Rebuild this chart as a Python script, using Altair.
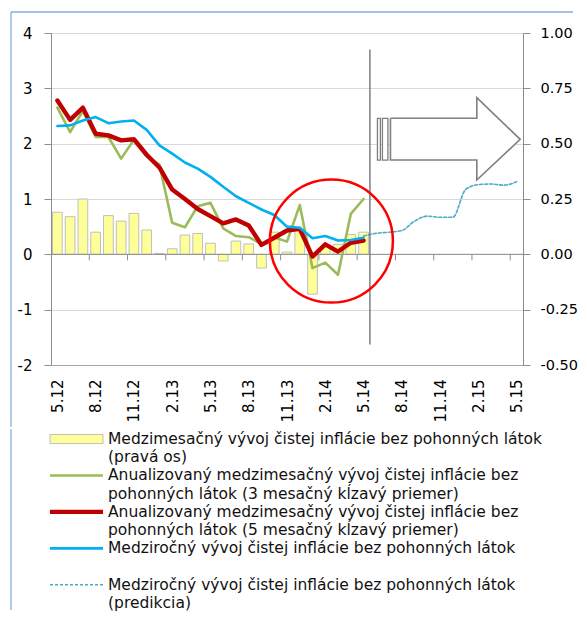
import altair as alt
import pandas as pd

FONT = "DejaVu Sans"

# ---- data ----
months = ["5.12", "6.12", "7.12", "8.12", "9.12", "10.12", "11.12", "12.12",
          "1.13", "2.13", "3.13", "4.13", "5.13", "6.13", "7.13", "8.13", "9.13", "10.13", "11.13", "12.13",
          "1.14", "2.14", "3.14", "4.14", "5.14", "6.14", "7.14", "8.14", "9.14", "10.14", "11.14", "12.14",
          "1.15", "2.15", "3.15", "4.15", "5.15"]

# month-on-month core inflation excl. fuels (right axis)
bar_mom = [0.19, 0.17, 0.25, 0.10, 0.175, 0.15, 0.185, 0.11, 0.004, 0.025, 0.087, 0.094, 0.05,
           -0.03, 0.06, 0.047, -0.062, 0.10, 0.01, 0.11, -0.18, 0.036, 0.045, 0.09, 0.10]
# annualised m-o-m, 3-month moving average (left axis)
green_3m = [2.65, 2.21, 2.59, 2.12, 2.12, 1.73, 2.07, 1.77, 1.62, 0.57, 0.49, 0.87, 0.93,
            0.47, 0.33, 0.31, 0.19, 0.31, 0.23, 0.89, -0.25, -0.15, -0.37, 0.73, 1.0]
# annualised m-o-m, 5-month moving average (left axis)
red_5m = [2.78, 2.43, 2.65, 2.18, 2.15, 2.06, 2.08, 1.80, 1.57, 1.17, 1.0, 0.82, 0.69,
          0.56, 0.63, 0.52, 0.17, 0.30, 0.43, 0.46, -0.04, 0.18, 0.05, 0.21, 0.25]
# year-on-year (left axis)
blue_yoy = [2.32, 2.33, 2.42, 2.48, 2.37, 2.40, 2.42, 2.25, 1.97, 1.82, 1.66, 1.55, 1.40,
            1.22, 1.05, 0.93, 0.81, 0.71, 0.50, 0.48, 0.29, 0.33, 0.25, 0.26, 0.30]
# year-on-year forecast (left axis)
forecast_idx = [24, 25, 26, 27, 28, 29, 30, 31, 32, 33, 34, 35, 36]
forecast_yoy = [0.33, 0.38, 0.40, 0.43, 0.60, 0.69, 0.67, 0.67, 1.17, 1.26, 1.27, 1.25, 1.31]

left_ticks = [-2, -1, 0, 1, 2, 3, 4]
right_ticks = [-0.5, -0.25, 0.0, 0.25, 0.5, 0.75, 1.0]
label_step = 3

legend_rows = [
    "Medzimesačný vývoj čistej inflácie bez pohonných látok",
    "(pravá os)",
    "Anualizovaný medzimesačný vývoj čistej inflácie bez",
    "pohonných látok (3 mesačný kĺzavý priemer)",
    "Anualizovaný medzimesačný vývoj čistej inflácie bez",
    "pohonných látok (5 mesačný kĺzavý priemer)",
    "Medziročný vývoj čistej inflácie bez pohonných látok",
    "",
    "Medziročný vývoj čistej inflácie bez pohonných látok",
    "(predikcia)",
]

# annotations (in data units: month index / left-axis value)
separator = {"t": [24.5], "top": [3.7], "bot": [-1.63]}
arrow_outline = {"t": [26.11, 32.88, 32.88, 36.28, 32.88, 32.88, 26.11, 26.11],
                 "v": [2.458, 2.458, 2.830, 2.078, 1.343, 1.704, 1.704, 2.458],
                 "k": [0, 1, 2, 3, 4, 5, 6, 7]}
arrow_stripes = {"a": [25.09, 25.48], "b": [25.32, 25.91], "lo": [1.704, 1.704], "hi": [2.458, 2.458]}
circle = {"t": [21.48], "v": [0.24]}

# ---- styling ----
W, H = 472, 332
H_LEG = 164
AX = "#8C8C8C"
GRID = "#D9D9D9"
FRAME = "#86AEDE"

n = len(bar_mom)
act = pd.DataFrame({"t": list(range(n)), "month": months[:n], "bar": bar_mom,
                    "g": green_3m, "r": red_5m, "b": blue_yoy})
fc = pd.DataFrame({"t": forecast_idx, "month": [months[i] for i in forecast_idx], "v": forecast_yoy})

label_vals = list(range(0, len(months), label_step))
label_expr = "[" + ",".join("'%s'" % m for m in months) + "][datum.value]"
zero_ticks = [v - 0.5 for v in label_vals[1:]]

xscale = alt.Scale(domain=[-0.5, len(months) - 0.5], nice=False, zero=False)
xaxis = alt.Axis(values=label_vals, labelExpr=label_expr, labelAngle=-90, labelAlign="right",
                 labelBaseline="middle", labelPadding=14, ticks=False, grid=False,
                 domainColor="#A6A6A6", labelFontSize=15, labelOverlap=False, labelFlush=False,
                 title=None)


def X(field="t"):
    return alt.X(field + ":Q", scale=xscale, axis=xaxis, title=None)


yl_scale = alt.Scale(domain=[-2, 4], nice=False, zero=False)
yl_axis = alt.Axis(values=left_ticks, labelExpr="datum.value", tickSize=7, tickColor=AX,
                   domainColor=AX, grid=True, gridColor=GRID, labelPadding=12, labelFontSize=15,
                   labelFlush=False, title=None)


def YL(field):
    return alt.Y(field + ":Q", scale=yl_scale, axis=yl_axis, title=None)


yr_scale = alt.Scale(domain=[-0.5, 1.0], nice=False, zero=False)
yr_axis = alt.Axis(orient="right", values=right_ticks,
                   labelExpr="replace(format(datum.value, '.2f'), '\u2212', '-')",
                   tickSize=7, tickColor=AX, domainColor=AX, grid=False, labelPadding=10,
                   labelFontSize=14.5, labelFlush=False, title=None)

bars = alt.Chart(act).transform_calculate(
    x1="datum.t - 0.38", x2="datum.t + 0.38"
).mark_bar(fill="#FFFF99", stroke="#BFBFBF", strokeWidth=1).encode(
    x=X("x1"), x2="x2:Q",
    y=alt.Y("bar:Q", scale=yr_scale, axis=yr_axis, title=None), y2=alt.datum(0),
)

zero_line = alt.Chart(pd.DataFrame({"x1": [-0.5], "x2": [len(months) - 0.5], "v": [0]})).mark_rule(
    color=AX, strokeWidth=1).encode(x=X("x1"), x2="x2:Q", y=YL("v"))

zero_tick_marks = alt.Chart(pd.DataFrame({"t": zero_ticks, "v": [0] * len(zero_ticks)})).mark_rule(
    color=AX, strokeWidth=1, y2Offset=6).encode(x=X(), y=YL("v"), y2="v:Q")


def series_line(df, field, color, width, **kw):
    return alt.Chart(df).mark_line(color=color, strokeWidth=width, strokeJoin="round",
                                   strokeCap="round", **kw).encode(x=X(), y=YL(field))


green = series_line(act, "g", "#9BBB59", 2.6)
red = series_line(act, "r", "#C00000", 4.4)
blue = series_line(act, "b", "#00B0F0", 2.6)
pred = series_line(fc, "v", "#4BACC6", 1.6, strokeDash=[3, 2], interpolate="monotone")

sep = alt.Chart(pd.DataFrame(separator)).mark_rule(color="#7F7F7F", strokeWidth=1.5).encode(
    x=X(), y=YL("top"), y2="bot:Q")

arrow = alt.Chart(pd.DataFrame(arrow_outline)).mark_line(
    fill="white", stroke="#7F7F7F", strokeWidth=1.6, strokeJoin="miter", interpolate="linear").encode(
    x=X(), y=YL("v"), order="k:Q")

stripes = alt.Chart(pd.DataFrame(arrow_stripes)).mark_rect(
    fill="white", stroke="#7F7F7F", strokeWidth=1.3).encode(x=X("a"), x2="b:Q", y=YL("lo"), y2="hi:Q")

ring = alt.Chart(pd.DataFrame(circle)).mark_point(
    shape="circle", size=15129, filled=False, color="#FF0000", strokeWidth=2.5, opacity=1).encode(
    x=X(), y=YL("v"))

one = pd.DataFrame({"a": [0]})
frame_left = alt.Chart(one).mark_rule(color=FRAME, strokeWidth=1.3).encode(
    x=alt.value(-40), y=alt.value(-21), y2=alt.value(H + 62))
frame_top = alt.Chart(one).mark_rule(color=FRAME, strokeWidth=1.3).encode(
    x=alt.value(-40), x2=alt.value(W + 50), y=alt.value(-21))

left = alt.layer(zero_line, zero_tick_marks, green, red, blue, pred, sep, stripes, arrow, ring,
                 frame_left, frame_top)

top = alt.layer(bars, left).resolve_scale(y="independent").properties(width=W, height=H)

# ---- legend panel ----
leg = pd.DataFrame({"row": list(range(len(legend_rows))), "text": legend_rows})
leg = leg[leg["text"] != ""]
ly_scale = alt.Scale(domain=[0, len(legend_rows) - 1], reverse=True, nice=False, zero=False)


def LY(field="row"):
    return alt.Y(field + ":Q", scale=ly_scale, axis=None)


leg_text = alt.Chart(leg).mark_text(align="left", baseline="middle", font=FONT, fontSize=15.5,
                                    color="#111111").encode(x=alt.value(57), y=LY(), text="text:N")

leg_bar = alt.Chart(pd.DataFrame({"row": [0]})).transform_calculate(
    r1="datum.row - 0.25", r2="datum.row + 0.25"
).mark_rect(fill="#FFFF99", stroke="#BFBFBF", strokeWidth=1).encode(
    x=alt.value(-1), x2=alt.value(52), y=LY("r1"), y2="r2:Q")


def leg_line(row, color, width, **kw):
    return alt.Chart(pd.DataFrame({"row": [row]})).mark_rule(color=color, strokeWidth=width, **kw).encode(
        x=alt.value(-1), x2=alt.value(52), y=LY())


leg_green = leg_line(2, "#9BBB59", 2.6)
leg_red = leg_line(4, "#C00000", 4.4)
leg_blue = leg_line(6, "#00B0F0", 2.6)
leg_pred = leg_line(8, "#4BACC6", 1.4, strokeDash=[3, 2])

leg_frame = alt.Chart(one).mark_rule(color=FRAME, strokeWidth=1.3).encode(
    x=alt.value(-40), y=alt.value(-10), y2=alt.value(H_LEG + 7))

legend = alt.layer(leg_bar, leg_green, leg_red, leg_blue, leg_pred, leg_text, leg_frame).properties(
    width=W, height=H_LEG)

chart = alt.vconcat(top, legend, spacing=0).properties(
    padding={"left": 2, "top": 3, "right": 0, "bottom": 0}
).configure_view(stroke=None).configure_axis(labelFont=FONT, labelColor="#000000")

chart.save("out.html", embed_options={"renderer": "svg", "actions": False})
